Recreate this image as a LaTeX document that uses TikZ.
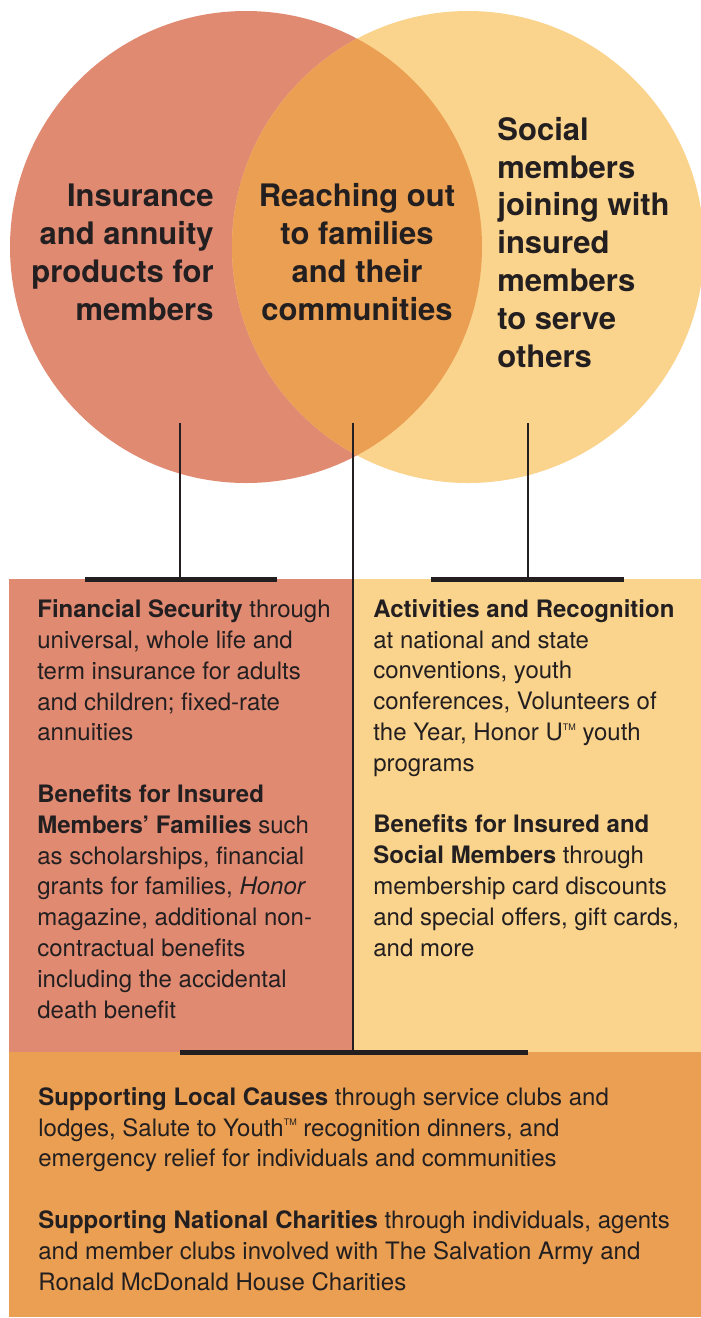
\documentclass[tikz,border=0pt]{standalone}
\usepackage{fontspec}
\setmainfont{TeX Gyre Heros}
\definecolor{salmon}{HTML}{E08A72}
\definecolor{sand}{HTML}{FAD38C}
\definecolor{amber}{HTML}{EA9F52}
\definecolor{ink}{HTML}{231F20}
\newcommand{\tmk}{\raisebox{0.42em}{\fontsize{4.5}{5}\selectfont TM}}

\begin{document}
\begin{tikzpicture}[x=0.5pt,y=-0.5pt,
    circtext/.style={font=\bfseries\fontsize{15.5}{18.9}\selectfont,text=ink,inner sep=0pt},
    boxtext/.style={font=\fontsize{12}{15.4}\selectfont,text=ink,inner sep=0pt,align=left,anchor=base west},
    stem/.style={ink,line width=1pt},
    bar/.style={ink,line width=2.5pt}]
        \useasboundingbox (0,0) rectangle (701,1318);
        \fill[salmon] (246,247) circle[radius=236];
        \fill[sand] (468,247) circle[radius=236];
        \begin{scope}
          \clip (246,247) circle[radius=236];
          \fill[amber] (468,247) circle[radius=236];
        \end{scope}
        \fill[salmon] (9,579) rectangle (353,1052);
        \fill[sand] (353,579) rectangle (701,1052);
        \fill[amber] (9,1052) rectangle (701,1317);
        \node[circtext,align=right,anchor=base east] (ins) at (214,320) {Insurance\\and annuity\\products for\\members};
        \node[circtext,align=center,anchor=base] (reach) at (357,320) {Reaching out\\to families\\and their\\communities};
        \node[circtext,align=left,anchor=base west] (soc) at (497,367) {Social\\members\\joining with\\insured\\members\\to serve\\others};
        \coordinate (lstem) at (180,423);
        \coordinate (mstem) at (353,423);
        \coordinate (rstem) at (528,423);
        \coordinate (lbarw) at (85,579);
        \coordinate (lbare) at (277,579);
        \coordinate (rbarw) at (431,579);
        \coordinate (rbare) at (624,579);
        \coordinate (bbarw) at (180,1052);
        \coordinate (bbare) at (528,1052);
        \draw[stem] (lstem) -- (lstem |- lbarw);
        \draw[stem] (rstem) -- (rstem |- rbarw);
        \draw[stem] (mstem) -- (mstem |- bbarw);
        \draw[bar] (lbarw) -- (lbare);
        \draw[bar] (rbarw) -- (rbare);
        \draw[bar] (bbarw) -- (bbare);
        \node[boxtext] (fin) at (37,1018) {\textbf{Financial Security} through\\universal, whole life and\\term insurance for adults\\and children; fixed-rate\\annuities\\[15.4pt]\textbf{Benefits for Insured}\\\textbf{Members’ Families} such\\as scholarships, financial\\grants for families, \textit{Honor}\\magazine, additional non-\\contractual benefits\\including the accidental\\death benefit};
        \node[boxtext] (act) at (373,956) {\textbf{Activities and Recognition}\\at national and state\\conventions, youth\\conferences, Volunteers of\\the Year, Honor U\tmk{} youth\\programs\\[15.4pt]\textbf{Benefits for Insured and}\\\textbf{Social Members} through\\membership card discounts\\and special offers, gift cards,\\and more};
        \node[boxtext] (sup) at (38,1290) {\textbf{Supporting Local Causes} through service clubs and\\lodges, Salute to Youth\tmk{} recognition dinners, and\\emergency relief for individuals and communities\\[15.4pt]\textbf{Supporting National Charities} through individuals, agents\\and member clubs involved with The Salvation Army and\\Ronald McDonald House Charities};
      \end{tikzpicture}
\end{document}
